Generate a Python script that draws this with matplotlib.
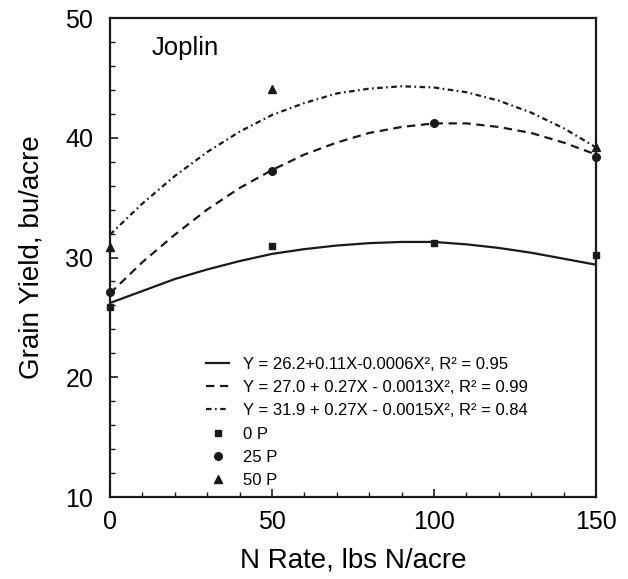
import numpy as np
import matplotlib
matplotlib.use("Agg")
import matplotlib.pyplot as plt
from matplotlib.ticker import MultipleLocator

plt.rcParams['font.family'] = ['Liberation Sans', 'DejaVu Sans']
plt.rcParams['lines.scale_dashes'] = False

# Observed data
n_rate = [0, 50, 100, 150]
yield_0p = [25.9, 31.0, 31.2, 30.2]
yield_25p = [27.1, 37.2, 41.2, 38.4]
yield_50p = [30.9, 44.1, np.nan, 39.2]

# Fitted curves
curve_x = [0, 10, 20, 30, 40, 50, 60, 70, 80, 90, 100, 110, 120, 130, 140, 150]
curve_0p = [26.2, 27.2, 28.2, 29.0, 29.7, 30.3, 30.7, 31.0, 31.2, 31.3, 31.3, 31.1, 30.8, 30.4, 29.9, 29.4]
curve_25p = [27.0, 29.6, 31.9, 34.0, 35.8, 37.3, 38.6, 39.6, 40.4, 40.9, 41.2, 41.2, 40.9, 40.4, 39.6, 38.6]
curve_50p = [31.9, 34.5, 36.8, 38.8, 40.5, 41.9, 42.9, 43.7, 44.1, 44.3, 44.2, 43.8, 43.1, 42.1, 40.8, 39.2]

labels_fit = [
    "Y = 26.2+0.11X-0.0006X², R² = 0.95",
    "Y = 27.0 + 0.27X - 0.0013X², R² = 0.99",
    "Y = 31.9 + 0.27X - 0.0015X², R² = 0.84",
]
labels_pts = ["0 P", "25 P", "50 P"]

fig = plt.figure(figsize=(6.28, 5.79), dpi=100)
ax = fig.add_axes([0.175, 0.1416, 0.774, 0.8273])

c = '#1a1a1a'
l1, = ax.plot(curve_x, curve_0p, color=c, lw=1.6, linestyle='-')
l2, = ax.plot(curve_x, curve_25p, color=c, lw=1.6, linestyle=(0, (6, 4)))
l3, = ax.plot(curve_x, curve_50p, color=c, lw=1.6, linestyle=(0, (4, 2.5, 1.2, 2.5)))

m1, = ax.plot(n_rate, yield_0p, 's', color=c, ms=5, linestyle='none', clip_on=False)
m2, = ax.plot(n_rate, yield_25p, 'o', color=c, ms=5.5, linestyle='none', clip_on=False)
m3, = ax.plot(n_rate, yield_50p, '^', color=c, ms=5.5, linestyle='none', clip_on=False)

ax.set_xlim(0, 150)
ax.set_ylim(10, 50)
ax.xaxis.set_major_locator(MultipleLocator(50))
ax.xaxis.set_minor_locator(MultipleLocator(10))
ax.yaxis.set_major_locator(MultipleLocator(10))
ax.yaxis.set_minor_locator(MultipleLocator(2))
ax.tick_params(which='both', direction='in', top=False, right=False, color=c)
ax.tick_params(which='major', length=6, width=1.2, labelsize=18, pad=9)
ax.tick_params(axis='y', which='major', pad=12)
ax.tick_params(which='minor', length=3.5, width=1.0)
for s in ax.spines.values():
    s.set_linewidth(1.6)
    s.set_color(c)

ax.set_xlabel("N Rate, lbs N/acre", fontsize=20, labelpad=10)
ax.set_ylabel("Grain Yield, bu/acre", fontsize=20, labelpad=15)

ax.text(13, 46.9, "Joplin", fontsize=18.5)

leg = ax.legend([l1, l2, l3, m1, m2, m3], labels_fit + labels_pts,
                loc='upper left', bbox_to_anchor=(0.198, 0.293), frameon=False,
                fontsize=12, handlelength=1.4, handletextpad=0.8,
                labelspacing=0.5, borderpad=0, borderaxespad=0)

fig.savefig("out.png", dpi=100)
